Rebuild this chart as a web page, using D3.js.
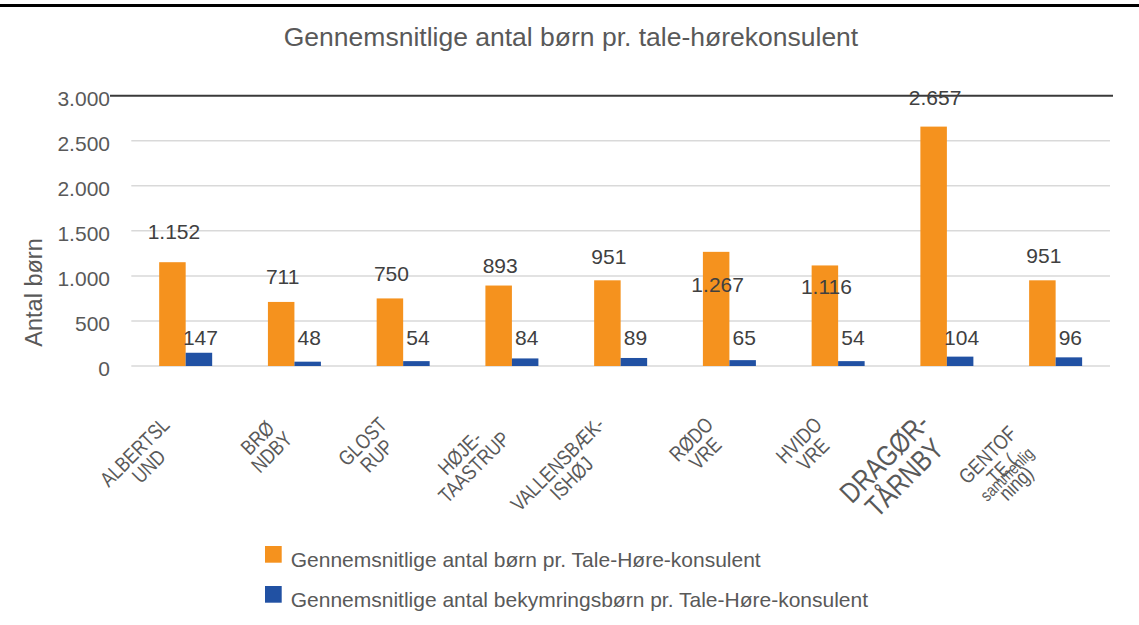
<!DOCTYPE html>
<html>
<head>
<meta charset="utf-8">
<script src="https://d3js.org/d3.v7.min.js"></script>
<style>
    body { margin: 0; background: #fff; }
    text { font-family: "Liberation Sans", Arial, sans-serif; }
</style>
</head>
<body>
<svg id="chart" width="1139" height="625"></svg>
<script>

// data
var categories = ["ALBERTSLUND", "BRØNDBY", "GLOSTRUP", "HØJE-TAASTRUP", "VALLENSBÆK-ISHØJ",
    "RØDOVRE", "HVIDOVRE", "DRAGØR-TÅRNBY", "GENTOFTE (sammenligning)"];
// how the category names are wrapped under the axis ("|" = two pieces printed on top of each other)
var tickLines = [["ALBERTSL", "UND"], ["BRØ", "NDBY"], ["GLOST", "RUP"], ["HØJE-", "TAASTRUP"],
    ["VALLENSBÆK-", "ISHØJ"], ["RØDO", "VRE"], ["HVIDO", "VRE"], ["DRAGØR-", "TÅRNBY"],
    ["GENTOF", "TE (|sammenlig", "ning)"]];
var boernPrKonsulent = [1152, 711, 750, 893, 951, 1267, 1116, 2657, 951];
var bekymringPrKonsulent = [147, 48, 54, 84, 89, 65, 54, 104, 96];
var yTicks = [0, 500, 1000, 1500, 2000, 2500, 3000];
var seriesNames = ["Gennemsnitlige antal børn pr. Tale-Høre-konsulent",
    "Gennemsnitlige antal bekymringsbørn pr. Tale-Høre-konsulent"];
var chartTitle = "Gennemsnitlige antal børn pr. tale-hørekonsulent";
var yTitle = "Antal børn";


var colors = ["#f5921e", "#2151a3"];
var textColor = "#595959";

// labels of the orange bars were moved by hand in the original (px above bar top)
var orangeLabelShift = [31, 25, 25, 20, 24, -33, -21, 29, 25];

var margin = {top: 95.7, right: 29, bottom: 259, left: 131.3};
var width = 1139 - margin.left - margin.right,
    height = 625 - margin.top - margin.bottom;

var dk = d3.formatLocale({decimal: ",", thousands: ".", grouping: [3], currency: ["", " kr"]});
var fmt = dk.format(",d");

var svg = d3.select("#chart");

svg.append("rect").attr("width", 1139).attr("height", 625).attr("fill", "#fff");

// black rule at the very top of the page
svg.append("line")
    .attr("x1", 0).attr("x2", 1139)
    .attr("y1", 5.5).attr("y2", 5.5)
    .attr("stroke", "#000").attr("stroke-width", 3);

svg.append("text")
    .attr("x", 571).attr("y", 37)
    .attr("dy", "0.35em")
    .attr("text-anchor", "middle")
    .attr("fill", textColor)
    .style("font-size", "26.5px")
    .text(chartTitle);

var g = svg.append("g")
    .attr("transform", "translate(" + margin.left + "," + margin.top + ")");

var x = d3.scaleBand()
    .domain(categories)
    .range([0, width])
    .padding(0);

var bw = x.bandwidth();
var x1 = d3.scaleBand()
    .domain([0, 1])
    .range([bw / 2 - 26.5, bw / 2 + 26.5]);

var y = d3.scaleLinear()
    .domain([0, 3000])
    .range([height, 0]);

// gridlines
g.append("g").attr("class", "grid")
    .selectAll("line")
    .data(yTicks)
    .enter().append("line")
    .attr("x1", function(d) { return d === 3000 ? -21.3 : 0; })
    .attr("x2", function(d) { return d === 3000 ? width + 3 : width; })
    .attr("y1", function(d) { return y(d); })
    .attr("y2", function(d) { return y(d); })
    .attr("stroke", function(d) { return d === 3000 ? "#3a3a3a" : "#d9d9d9"; })
    .attr("stroke-width", function(d) { return d === 3000 ? 2 : 1.5; });

// y axis labels
var yAxis = g.append("g")
    .attr("class", "axis axis--y")
    .call(d3.axisLeft(y).tickValues(yTicks).tickFormat(fmt).tickSize(0).tickPadding(21.3));
yAxis.select(".domain").remove();
yAxis.selectAll("text")
    .attr("fill", textColor)
    .attr("dy", "0.45em")
    .style("font-family", "'Liberation Sans', Arial, sans-serif")
    .style("font-size", "21px");

svg.append("text")
    .attr("transform", "translate(34,292.5) rotate(-90)")
    .attr("dy", "0.35em")
    .attr("text-anchor", "middle")
    .attr("fill", textColor)
    .style("font-size", "23.5px")
    .text(yTitle);

// bars
var series = [boernPrKonsulent, bekymringPrKonsulent];
series.forEach(function(vals, s) {
    g.append("g").attr("class", "series-" + s)
        .selectAll("rect")
        .data(vals)
        .enter().append("rect")
        .attr("x", function(d, i) { return x(categories[i]) + x1(s); })
        .attr("width", x1.bandwidth())
        .attr("y", function(d) { return y(d); })
        .attr("height", function(d) { return height - y(d); })
        .attr("fill", colors[s]);
});

// value labels
g.append("g").selectAll("text")
    .data(boernPrKonsulent)
    .enter().append("text")
    .attr("x", function(d, i) { return x(categories[i]) + x1(0) + x1.bandwidth() / 2 + 1.5; })
    .attr("y", function(d, i) { return y(d) - orangeLabelShift[i]; })
    .attr("dy", "0.36em")
    .attr("text-anchor", "middle")
    .attr("fill", "#404040")
    .style("font-size", "21px")
    .text(function(d) { return fmt(d); });

g.append("g").selectAll("text")
    .data(bekymringPrKonsulent)
    .enter().append("text")
    .attr("x", function(d, i) { return x(categories[i]) + x1(1) + x1.bandwidth() / 2 + 1.5; })
    .attr("y", y(0) - 29)
    .attr("dy", "0.36em")
    .attr("text-anchor", "middle")
    .attr("fill", "#404040")
    .style("font-size", "21px")
    .text(function(d) { return fmt(d); });

// rotated category labels, lines centred on each other, block ends at the tick.
// the original squeezes these, so draw them condensed
var squeeze = 0.82;
var xLab = svg.append("g").attr("class", "x-labels");
tickLines.forEach(function(lines, i) {
    var fs = i === 7 ? 29 : 21,
        lh = i === 7 ? 28 : 20;
    var cx = margin.left + x(categories[i]) + bw / 2;
    var lg = xLab.append("g")
        .attr("transform", "translate(" + (cx - 13) + "," + 428 + ") rotate(-45) scale(" + squeeze + ",1)");

    var widths = lines.map(function(l) {
        var t = lg.append("text").style("font-size", fs + "px").text(l.replace("|", ""));
        var w = t.node().getComputedTextLength();
        t.remove();
        return w;
    });
    var maxW = d3.max(widths);

    lines.forEach(function(l, j) {
        var yy = (j - (lines.length - 1) / 2) * lh + fs * 0.35;
        l.split("|").forEach(function(part, k) {
            lg.append("text")
                .attr("x", -maxW / 2)
                .attr("y", yy + k * 6)
                .attr("text-anchor", "middle")
                .attr("fill", textColor)
                .style("font-size", (k ? 17 : fs) + "px")
                .text(part);
        });
    });
});

// legend
var legend = svg.append("g").attr("class", "legend")
    .selectAll("g")
    .data(seriesNames)
    .enter().append("g")
    .attr("transform", function(d, i) { return "translate(265," + (546 + i * 40) + ")"; });

legend.append("rect")
    .attr("width", 16.7).attr("height", 16.7)
    .attr("fill", function(d, i) { return colors[i]; });

legend.append("text")
    .attr("x", 25.7).attr("y", 21)
    .attr("fill", textColor)
    .style("font-size", "21px")
    .text(function(d) { return d; });

</script>
</body>
</html>
